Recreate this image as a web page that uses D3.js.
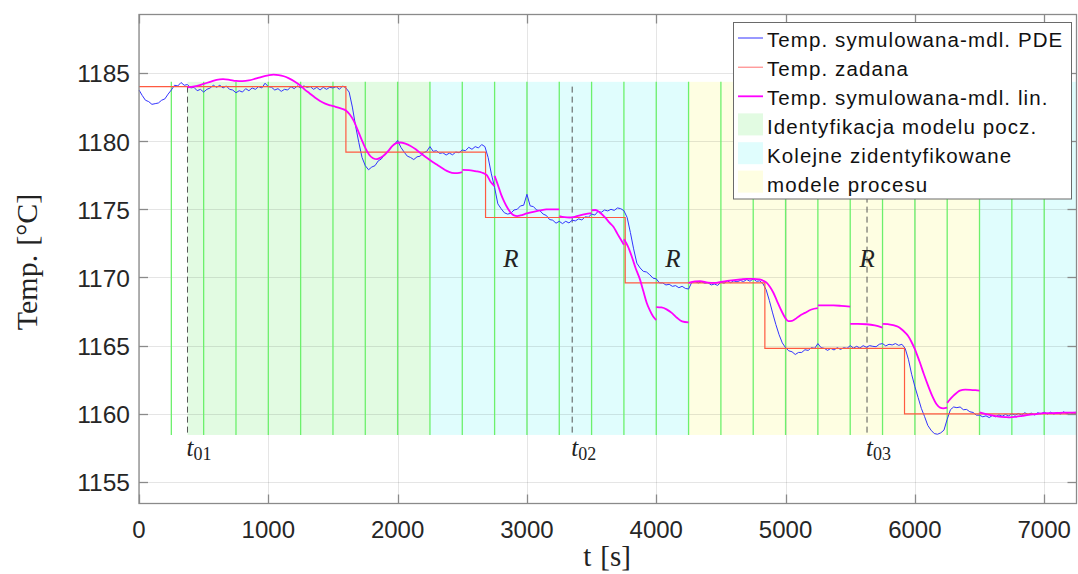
<!DOCTYPE html>
<html>
<head>
<meta charset="utf-8">
<script src="https://cdn.jsdelivr.net/npm/d3@7"></script>
<style>
  html, body { margin: 0; padding: 0; background: #fff; }
  svg { display: block; }
</style>
</head>
<body>
<svg id="chart" width="1078" height="574"></svg>
<script>
// ---- data -------------------------------------------------------------
const xTicks = [0, 1000, 2000, 3000, 4000, 5000, 6000, 7000];
const yTicks = [1155, 1160, 1165, 1170, 1175, 1180, 1185];

// set-point (step changes)
const setpointTimes  = [0, 1600, 2680, 3760, 4840, 5920, 7250];
const setpointValues = [1184, 1179.2, 1174.4, 1169.6, 1164.8, 1160, 1160];

// PDE model temperature, sampled every 25 s from t = 0
const pdeStep = 25;
const pdeValues = [
  1183.75, 1183.35, 1183.0, 1182.9, 1182.7, 1182.75, 1182.8, 1183.0, 1183.1, 1183.45,
  1183.75, 1184.1, 1184.05, 1184.3, 1184.1, 1184.15, 1183.9, 1183.95, 1183.7, 1183.8,
  1183.6, 1183.8, 1183.9, 1184.1, 1183.95, 1184.1, 1183.9, 1184.05, 1183.8, 1183.75,
  1183.55, 1183.7, 1183.6, 1183.85, 1183.7, 1183.9, 1183.8, 1184.0, 1183.9, 1184.25,
  1184.0, 1183.95, 1183.75, 1183.85, 1183.65, 1183.8, 1183.75, 1184.0, 1183.85, 1184.05,
  1183.9, 1184.05, 1183.95, 1184.0, 1183.8, 1183.95, 1183.75, 1183.95, 1183.8, 1183.95,
  1183.9, 1184.0, 1183.8, 1184.05, 1183.9, 1183.6, 1182.5, 1181.1, 1179.9, 1178.8,
  1178.2, 1177.9, 1178.1, 1178.2, 1178.55, 1178.7, 1179.05, 1179.25, 1179.55, 1179.75,
  1180.05, 1179.55, 1179.2, 1178.9, 1178.8, 1178.65, 1178.85, 1178.9, 1179.15, 1179.25,
  1179.6, 1179.25, 1179.3, 1179.1, 1179.15, 1178.98, 1179.12, 1179.0, 1179.2, 1179.15,
  1179.35, 1179.3, 1179.55, 1179.4, 1179.6, 1179.5, 1179.75, 1179.6, 1178.8, 1177.6,
  1176.6, 1175.4, 1175.05, 1174.75, 1174.65, 1174.7, 1174.95, 1175.0, 1175.25, 1175.3,
  1176.1, 1175.25, 1175.2, 1174.95, 1174.9, 1174.65, 1174.55, 1174.25, 1174.2, 1173.98,
  1174.12, 1173.95, 1174.12, 1174.0, 1174.2, 1174.15, 1174.3, 1174.22, 1174.45, 1174.42,
  1174.65, 1174.58, 1174.85, 1174.78, 1174.95, 1174.88, 1175.0, 1174.92, 1175.1, 1175.05,
  1174.9, 1174.4, 1173.3, 1172.1, 1171.05, 1170.7, 1170.45, 1170.4, 1170.2, 1169.95,
  1169.9, 1169.6, 1169.6, 1169.45, 1169.5, 1169.35, 1169.4, 1169.25, 1169.35, 1169.2,
  1169.15, 1169.65, 1169.7, 1169.6, 1169.68, 1169.58, 1169.62, 1169.45, 1169.52, 1169.42,
  1169.65, 1169.58, 1169.75, 1169.62, 1169.75, 1169.68, 1169.78, 1169.7, 1169.85, 1169.72,
  1169.9, 1169.72, 1169.75, 1169.55, 1169.1, 1168.3, 1167.4, 1166.55, 1165.8, 1165.2,
  1164.85, 1164.62, 1164.55, 1164.35, 1164.5, 1164.5, 1164.7, 1164.65, 1164.85, 1164.8,
  1165.15, 1164.85, 1164.8, 1164.65, 1164.8, 1164.68, 1164.85, 1164.72, 1164.85, 1164.8,
  1165.0, 1164.82, 1164.95, 1164.82, 1165.0, 1164.88, 1165.0, 1164.95, 1164.92, 1165.1,
  1165.15, 1164.98, 1165.1, 1165.05, 1165.15, 1165.02, 1165.1, 1164.8, 1164.0, 1162.9,
  1162.0, 1161.2, 1160.4, 1159.8, 1159.15, 1158.8, 1158.55, 1158.5, 1158.6, 1158.8,
  1159.6, 1160.3, 1160.5, 1160.45, 1160.5, 1160.3, 1160.32, 1160.15, 1160.1, 1159.9,
  1159.9, 1159.78, 1159.85, 1159.72, 1159.88, 1159.78, 1159.92, 1159.82, 1159.95, 1159.85,
  1160.0, 1159.9, 1160.02, 1159.92, 1160.08, 1159.95, 1160.05, 1159.92, 1160.08, 1160.0,
  1160.12, 1159.98, 1160.12, 1159.98, 1160.1, 1159.98, 1160.15, 1160.0, 1160.1, 1159.98,
  1160.05
];

// linear model response, one piece per identified model
const linSegments = [
  [[375,1183.95],[450,1184.05],[500,1184.2],[550,1184.35],[600,1184.5],[650,1184.55],[700,1184.5],
   [750,1184.42],[800,1184.4],[850,1184.45],[900,1184.58],[950,1184.72],[1000,1184.83],[1040,1184.88],
   [1080,1184.85],[1120,1184.76],[1160,1184.6],[1200,1184.4],[1245,1184.1],[1280,1183.8],[1320,1183.5],
   [1360,1183.2],[1400,1182.95],[1440,1182.75],[1480,1182.62],[1520,1182.52],[1560,1182.4],[1600,1182.25],
   [1630,1181.95],[1660,1181.5],[1690,1180.85],[1720,1180.15],[1750,1179.5],[1780,1179.0],[1810,1178.75],
   [1840,1178.68],[1870,1178.8],[1900,1179.0],[1930,1179.3],[1960,1179.65],[1990,1179.85],[2020,1179.9],
   [2060,1179.82],[2100,1179.65],[2140,1179.4],[2180,1179.1],[2220,1178.82],[2260,1178.55],[2300,1178.3],
   [2340,1178.05],[2380,1177.82],[2420,1177.68],[2460,1177.65],[2500,1177.72]],
  [[2500,1177.9],[2550,1177.88],[2600,1177.8],[2650,1177.7],[2690,1177.5],[2720,1177.0],[2750,1176.7]],
  [[2750,1177.45],[2775,1176.8],[2800,1176.1],[2825,1175.55],[2850,1175.1],[2875,1174.75],[2900,1174.55],
   [2925,1174.5],[2950,1174.55],[3000,1174.7],[3050,1174.82],[3100,1174.92],[3150,1175.0],[3200,1175.0],
   [3250,1175.0]],
  [[3250,1174.5],[3290,1174.42],[3330,1174.4],[3370,1174.45],[3410,1174.56],[3450,1174.65],[3500,1174.72]],
  [[3500,1174.93],[3530,1174.95],[3565,1174.75],[3600,1174.45],[3640,1174.0],[3670,1173.7],[3700,1173.2],
   [3725,1172.8],[3750,1172.4]],
  [[3750,1172.8],[3780,1172.3],[3810,1171.56],[3840,1170.7],[3874,1169.86],[3900,1169.0],[3926,1168.15],
   [3950,1167.6],[3975,1167.15],[4000,1166.88]],
  [[4000,1167.83],[4040,1167.8],[4080,1167.66],[4120,1167.4],[4160,1167.05],[4200,1166.78],[4250,1166.7]],
  [[4250,1169.6],[4300,1169.72],[4340,1169.73],[4400,1169.62],[4450,1169.6],[4500,1169.68],[4550,1169.75],
   [4600,1169.8],[4650,1169.85],[4700,1169.9],[4750,1169.9],[4800,1169.86],[4830,1169.75],[4855,1169.6],
   [4880,1169.3],[4905,1168.9],[4935,1168.25],[4969,1167.54],[5000,1167.0],[5021,1166.8],[5050,1166.82],
   [5072,1166.93],[5110,1167.2],[5150,1167.4],[5200,1167.65],[5250,1167.75]],
  [[5250,1167.95],[5300,1167.95],[5370,1167.95],[5430,1167.92],[5500,1167.86]],
  [[5500,1166.6],[5560,1166.6],[5627,1166.57],[5690,1166.48],[5750,1166.32]],
  [[5750,1166.6],[5790,1166.58],[5832,1166.5],[5870,1166.38],[5897,1166.2],[5925,1165.95],[5948,1165.7],
   [5975,1165.25],[6000,1164.74],[6020,1164.25],[6039,1163.76],[6070,1162.9],[6103,1162.05],[6135,1161.3],
   [6168,1160.7],[6195,1160.45],[6219,1160.4],[6250,1160.45]],
  [[6250,1160.8],[6275,1161.1],[6297,1161.32],[6325,1161.55],[6348,1161.7],[6390,1161.77],[6430,1161.76],
   [6470,1161.73],[6500,1161.7]],
  [[6500,1160.1],[6550,1159.98],[6606,1159.86],[6650,1159.8],[6700,1159.76],[6735,1159.74],[6780,1159.78],
   [6830,1159.85],[6880,1159.92],[6940,1159.98],[6992,1160.05],[7050,1160.05],[7100,1160.06],[7150,1160.08],
   [7200,1160.08],[7250,1160.1]]
];

// identification windows
const regionBounds = [375, 2250, 4250, 6500, 7250];
const regionKinds  = ["init", "next", "proc", "next"];
const identTimes = [250, 500, 750, 1000, 1250, 1500, 1750, 2000, 2250, 2500, 2750, 3000, 3250, 3500,
                    3750, 4000, 4250, 4500, 4750, 5000, 5250, 5500, 5750, 6000, 6250, 6500, 6750, 7000];
const bandRange = [1158.45, 1184.35];

// reset instants and R markers
const resetTimes  = [375, 3350, 5630];
const resetLabels = ["01", "02", "03"];
const rTimes = [2876, 4129, 5630];

const legendLabels = [
  "Temp. symulowana-mdl. PDE", "Temp. zadana", "Temp. symulowana-mdl. lin.",
  "Identyfikacja modelu pocz.", "Kolejne zidentyfikowane", "modele procesu"
];

// ---- layout -----------------------------------------------------------
const C = {
  blue: "#3333ff", red: "#ff5a40", mag: "#ff00ff",
  init: "#e2fbe2", next: "#e0fdfd", proc: "#fefee2", green: "#6cf06c",
  axis: "#8a8a8a", text: "#262626"
};
const M = { left: 139, top: 14.5, right: 1076.5, bottom: 503.5 };

const svg = d3.select("#chart");
const x = d3.scaleLinear().domain([0, 7250]).range([M.left, M.right]);
const y = d3.scaleLinear().domain([1153.42, 1189.29]).range([M.bottom, M.top]);

// shaded identification bands
const bands = svg.append("g");
regionKinds.forEach((k, i) => {
  bands.append("rect")
    .attr("x", x(regionBounds[i]))
    .attr("y", y(bandRange[1]))
    .attr("width", x(regionBounds[i + 1]) - x(regionBounds[i]))
    .attr("height", y(bandRange[0]) - y(bandRange[1]))
    .attr("fill", C[k]);
});

// grid
const grid = svg.append("g").attr("stroke", "#000").attr("stroke-opacity", 0.1).attr("stroke-width", 1);
xTicks.forEach(t => grid.append("line")
  .attr("x1", Math.round(x(t)) + 0.5).attr("x2", Math.round(x(t)) + 0.5)
  .attr("y1", M.top).attr("y2", M.bottom));
yTicks.forEach(v => grid.append("line")
  .attr("y1", Math.round(y(v)) + 0.5).attr("y2", Math.round(y(v)) + 0.5)
  .attr("x1", M.left).attr("x2", M.right));

// model-switch lines
svg.append("g").selectAll("line").data(identTimes).join("line")
  .attr("x1", d => x(d)).attr("x2", d => x(d))
  .attr("y1", y(bandRange[1])).attr("y2", y(bandRange[0]))
  .attr("stroke", C.green).attr("stroke-width", 1.3);

// reset instants
svg.append("g").selectAll("line").data(resetTimes).join("line")
  .attr("x1", d => x(d)).attr("x2", d => x(d))
  .attr("y1", y(1184)).attr("y2", y(bandRange[0]))
  .attr("stroke", "#555").attr("stroke-width", 1).attr("stroke-dasharray", "6,4");

// curves
const line = d3.line().x(d => x(d[0])).y(d => y(d[1]));
const pdePts = pdeValues.map((v, i) => [i * pdeStep, v]);
const spPts = setpointTimes.map((t, i) => [t, setpointValues[i]]);

svg.append("path").datum(pdePts).attr("d", line)
  .attr("fill", "none").attr("stroke", C.blue).attr("stroke-width", 1);
svg.append("path").datum(spPts).attr("d", line.curve(d3.curveStepAfter))
  .attr("fill", "none").attr("stroke", C.red).attr("stroke-width", 1.2);
line.curve(d3.curveMonotoneX);
svg.append("g").selectAll("path").data(linSegments).join("path")
  .attr("d", line)
  .attr("fill", "none").attr("stroke", C.mag).attr("stroke-width", 1.8);

// annotations
const serif = "'Liberation Serif', 'DejaVu Serif', serif";
resetTimes.forEach((t, i) => {
  const tx = svg.append("text").attr("x", x(t) - 1).attr("y", y(1156.9))
    .attr("font-family", serif).attr("font-size", 25).attr("fill", "#222");
  tx.append("tspan").attr("font-style", "italic").text("t");
  tx.append("tspan").attr("font-size", 18).attr("dy", 4).text(resetLabels[i]);
});
rTimes.forEach(t => {
  svg.append("text").attr("x", x(t)).attr("y", y(1170.8)).attr("text-anchor", "middle")
    .attr("font-family", serif).attr("font-style", "italic").attr("font-size", 25)
    .attr("fill", "#222").text("R");
});

// axes box + ticks
const ax = svg.append("g").attr("stroke", C.axis).attr("stroke-width", 1.3);
ax.append("rect").attr("x", M.left).attr("y", M.top)
  .attr("width", M.right - M.left).attr("height", M.bottom - M.top).attr("fill", "none");
const tl = 9;
xTicks.forEach(t => {
  const px = Math.round(x(t)) + 0.5;
  ax.append("line").attr("x1", px).attr("x2", px).attr("y1", M.bottom).attr("y2", M.bottom - tl);
  ax.append("line").attr("x1", px).attr("x2", px).attr("y1", M.top).attr("y2", M.top + tl);
});
yTicks.forEach(v => {
  const py = Math.round(y(v)) + 0.5;
  ax.append("line").attr("y1", py).attr("y2", py).attr("x1", M.left).attr("x2", M.left + tl);
  ax.append("line").attr("y1", py).attr("y2", py).attr("x1", M.right).attr("x2", M.right - tl);
});

const sans = "'Liberation Sans', Arial, Helvetica, sans-serif";
svg.append("g").selectAll("text").data(xTicks).join("text")
  .attr("x", d => x(d)).attr("y", 538).attr("text-anchor", "middle")
  .attr("font-family", sans).attr("font-size", 24).attr("fill", C.text).text(d => d);
svg.append("g").selectAll("text").data(yTicks).join("text")
  .attr("x", 130).attr("y", d => y(d) + 9.5).attr("text-anchor", "end")
  .attr("font-family", sans).attr("font-size", 24.5).attr("fill", C.text).text(d => d);

// axis titles
const xl = svg.append("text").attr("x", 607).attr("y", 566).attr("text-anchor", "middle")
  .attr("font-family", serif).attr("font-size", 29).attr("fill", "#222");
xl.append("tspan").text("t");
xl.append("tspan").attr("dx", 9).text("[s]");

const yl = svg.append("text").attr("transform", "translate(37,262) rotate(-90)")
  .attr("text-anchor", "middle").attr("font-family", serif).attr("font-size", 30).attr("fill", "#222");
yl.append("tspan").text("Temp.");
yl.append("tspan").attr("dx", 9).text("[°C]");

// legend
const lg = svg.append("g");
lg.append("rect").attr("x", 733.5).attr("y", 22.5).attr("width", 338).attr("height", 176.5)
  .attr("fill", "#fff").attr("stroke", "#6a6a6a").attr("stroke-width", 1);
const rowBase = [47, 76.2, 105.3, 134.4, 163.2, 191.6];
const swatch = [
  { type: "line", color: C.blue, w: 1 },
  { type: "line", color: "#ff7070", w: 1 },
  { type: "line", color: C.mag, w: 1.8 },
  { type: "rect", color: C.init },
  { type: "rect", color: C.next },
  { type: "rect", color: C.proc }
];
legendLabels.forEach((lab, i) => {
  const s = swatch[i];
  if (s.type === "line") {
    lg.append("line").attr("x1", 738).attr("x2", 763)
      .attr("y1", rowBase[i] - 9).attr("y2", rowBase[i] - 9)
      .attr("stroke", s.color).attr("stroke-width", s.w);
  } else {
    lg.append("rect").attr("x", 738).attr("y", rowBase[i] - 21).attr("width", 25).attr("height", 22)
      .attr("fill", s.color);
  }
  lg.append("text").attr("x", 767).attr("y", rowBase[i])
    .attr("font-family", sans).attr("font-size", 20.5).attr("letter-spacing", 1.1)
    .attr("fill", "#111").text(lab);
});
</script>
</body>
</html>
